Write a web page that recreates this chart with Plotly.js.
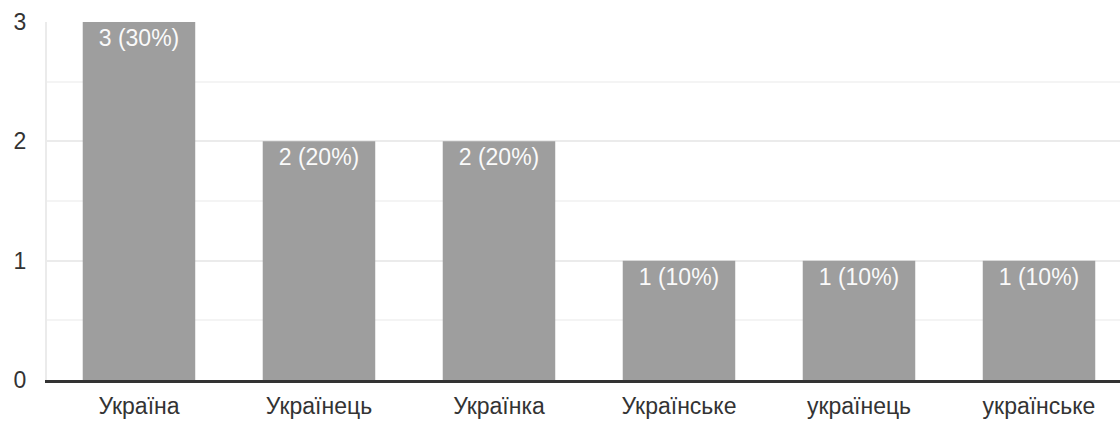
<!DOCTYPE html>
<html>
<head>
<meta charset="utf-8">
<script src="https://cdn.plot.ly/plotly-3.0.1.min.js"></script>
<style>
html, body { margin: 0; padding: 0; background: #fff; }
#chart { width: 1120px; height: 421px; }
</style>
</head>
<body>
<div id="chart"></div>
<script>
const categories = ["Україна", "Українець", "Українка", "Українське", "українець", "українське"];
const counts = [3, 2, 2, 1, 1, 1];
const yTickValues = [0, 1, 2, 3];

const total = counts.reduce((a, b) => a + b, 0);
const barLabels = counts.map(v => v + " (" + Math.round(v / total * 100) + "%)");

const fontFamily = "Arial, 'Liberation Sans', sans-serif";

const trace = {
  type: "bar",
  x: categories,
  y: counts,
  text: barLabels,
  textposition: "inside",
  insidetextanchor: "end",
  textangle: 0,
  constraintext: "none",
  insidetextfont: { family: fontFamily, size: 23, color: "#fafafa" },
  marker: { color: "#9e9e9e", line: { width: 0 } },
  width: 0.625,
  hoverinfo: "none"
};

const layout = {
  width: 1120,
  height: 421,
  margin: { l: 47, r: 0, t: 22, b: 41, pad: 0 },
  paper_bgcolor: "#ffffff",
  plot_bgcolor: "#ffffff",
  showlegend: false,
  font: { family: fontFamily, size: 23, color: "#333333" },
  xaxis: {
    type: "category",
    range: [-0.511, 5.45],
    showgrid: false,
    zeroline: false,
    showline: true,
    linecolor: "#333333",
    linewidth: 3,
    ticks: "",
    ticklabelstandoff: 3,
    tickfont: { family: fontFamily, size: 23, color: "#333333" },
    fixedrange: true
  },
  yaxis: {
    range: [0, 3],
    tickvals: yTickValues,
    showgrid: true,
    gridcolor: "#ebebeb",
    gridwidth: 2,
    minor: { dtick: 0.5, showgrid: true, gridcolor: "#f4f4f4", gridwidth: 2 },
    zeroline: false,
    showline: true,
    linecolor: "#ebebeb",
    linewidth: 2,
    ticks: "",
    ticklabelstandoff: 14,
    tickfont: { family: fontFamily, size: 23, color: "#333333" },
    fixedrange: true
  }
};

Plotly.newPlot("chart", [trace], layout, { displayModeBar: false, staticPlot: true });
</script>
</body>
</html>
